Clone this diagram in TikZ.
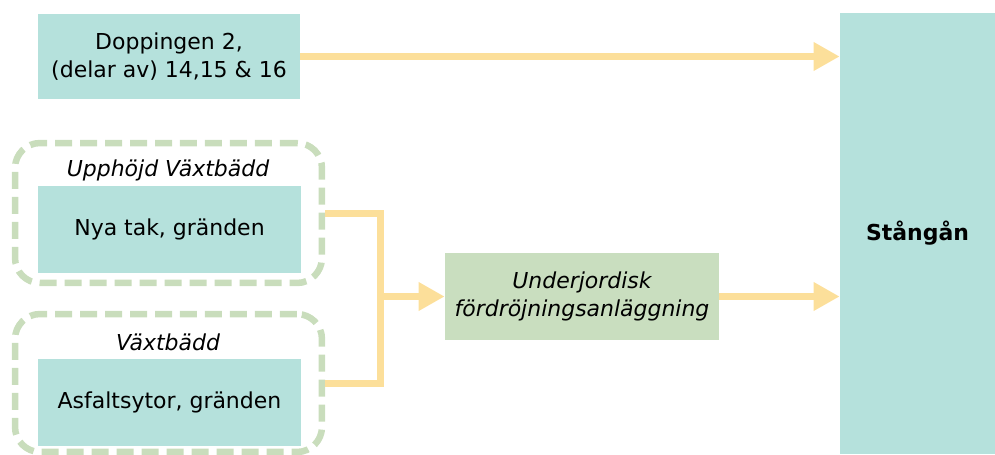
\documentclass[tikz,border=0pt]{standalone}
\usepackage{fontspec}
\setmainfont{DejaVu Sans}
\usetikzlibrary{arrows.meta}
\definecolor{tealfill}{HTML}{B5E1DC}
\definecolor{greenfill}{HTML}{C9DEBF}
\definecolor{flowcol}{HTML}{FCDF9A}
\definecolor{dashcol}{HTML}{C9DDBC}
\begin{document}
\begin{tikzpicture}[x=0.02cm,y=-0.02cm,line join=miter,
  box/.style={fill=tealfill,inner sep=0pt,align=center,font=\fontsize{12.5}{15.5}\selectfont},
  tank/.style={box,fill=greenfill,font=\fontsize{12.5}{15.5}\selectfont\itshape},
  bed/.style={draw=dashcol,line width=0.13cm,rounded corners=0.5cm,dash pattern=on 0.34cm off 0.16cm,minimum width=6.14cm,inner sep=0pt},
  bedlabel/.style={font=\fontsize{12.5}{15.5}\selectfont\itshape},
  flow/.style={draw=flowcol,line width=0.14cm},
  tip/.style={flow,-{Triangle[length=0.52cm,width=0.54cm]}}]
\useasboundingbox (0,0) rectangle (995,454);
% flow sources and receiver
\node[box,minimum width=5.24cm,minimum height=1.7cm] (dop) at (169,56.5) {Doppingen 2,\\(delar av) 14,15 \& 16};
\node[box,minimum width=3.1cm,minimum height=8.82cm,font=\fontsize{12.5}{15.5}\selectfont\bfseries] (stang) at (917.5,233.5) {Stångån};
% planting beds
\node[bed,minimum height=2.8cm] (bed1) at (168.5,213) {};
\node[bed,minimum height=2.76cm] (bed2) at (168.5,383) {};
\node[bedlabel] (lab1) at (168,170) {Upphöjd Växtbädd};
\node[bedlabel] (lab2) at (168,342) {Växtbädd};
\node[box,minimum width=5.26cm,minimum height=1.74cm] (roof) at (169.5,229.5) {Nya tak, gränden};
\node[box,minimum width=5.26cm,minimum height=1.74cm] (asph) at (169.5,402.5) {Asfaltsytor, gränden};
% underground storage
\node[tank,minimum width=5.48cm,minimum height=1.74cm] (ufd) at (582,296.5) {Underjordisk\\fördröjningsanläggning};
\coordinate (join) at (380.5,296.5);
% connectors
\draw[flow] (bed1.east) -| (join) |- (bed2.east);
\draw[tip] (join) -- (ufd.west);
\draw[tip] (dop.east) -- (dop.east -| stang.west);
\draw[tip] (ufd.east) -- (ufd.east -| stang.west);
\end{tikzpicture}
\end{document}
